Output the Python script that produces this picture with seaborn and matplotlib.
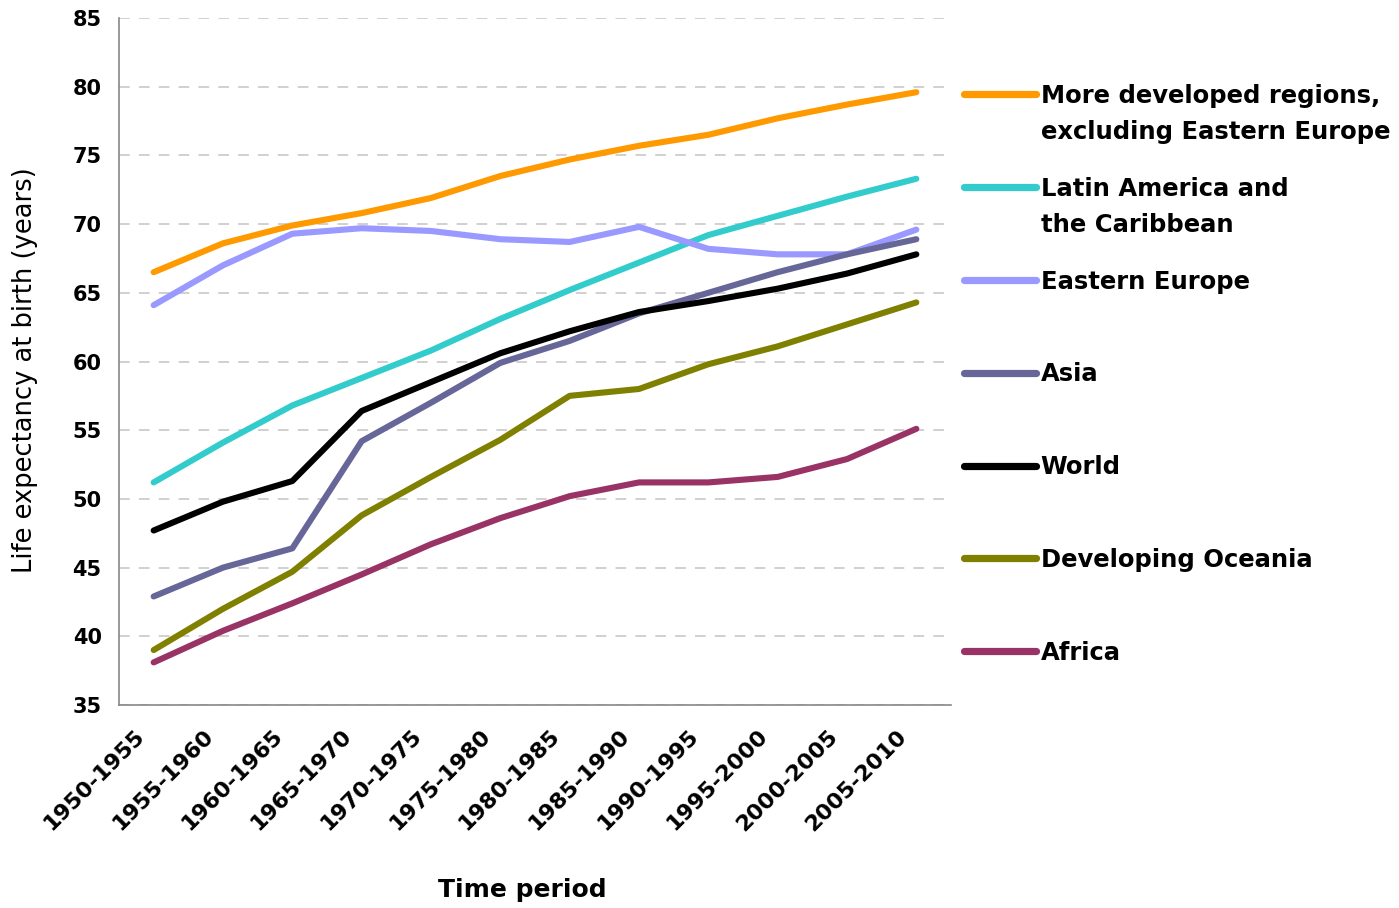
import numpy as np
import pandas as pd
import matplotlib
matplotlib.use("Agg")
import matplotlib.pyplot as plt
import matplotlib.transforms as mtransforms
import seaborn as sns

periods = ["1950-1955", "1955-1960", "1960-1965", "1965-1970", "1970-1975", "1975-1980",
           "1980-1985", "1985-1990", "1990-1995", "1995-2000", "2000-2005", "2005-2010"]

more_developed = [66.5, 68.6, 69.9, 70.8, 71.9, 73.5, 74.7, 75.7, 76.5, 77.7, 78.7, 79.6]
latin_america = [51.2, 54.1, 56.8, 58.8, 60.8, 63.1, 65.2, 67.2, 69.2, 70.6, 72.0, 73.3]
eastern_europe = [64.1, 67.0, 69.3, 69.7, 69.5, 68.9, 68.7, 69.8, 68.2, 67.8, 67.8, 69.6]
asia = [42.9, 45.0, 46.4, 54.2, 57.0, 59.9, 61.5, 63.5, 65.0, 66.5, 67.8, 68.9]
world = [47.7, 49.8, 51.3, 56.4, 58.5, 60.6, 62.2, 63.6, 64.4, 65.3, 66.4, 67.8]
developing_oceania = [39.0, 42.0, 44.7, 48.8, 51.6, 54.3, 57.5, 58.0, 59.8, 61.1, 62.7, 64.3]
africa = [38.1, 40.4, 42.4, 44.5, 46.7, 48.6, 50.2, 51.2, 51.2, 51.6, 52.9, 55.1]

series_names = ["More developed regions,", "Latin America and", "Eastern Europe", "Asia",
                "World", "Developing Oceania", "Africa"]
second_lines = ["excluding Eastern Europe", "the Caribbean", "", "", "", "", ""]
series_values = [more_developed, latin_america, eastern_europe, asia, world,
                 developing_oceania, africa]
colors = ["#FF9900", "#33CCCC", "#9999FF", "#666699", "#000000", "#808000", "#993366"]

y_ticks = [35, 40, 45, 50, 55, 60, 65, 70, 75, 80, 85]

rows = []
for name, vals in zip(series_names, series_values):
    for i, v in enumerate(vals):
        rows.append({"pos": i, "period": periods[i], "series": name, "value": v})
df = pd.DataFrame(rows)

sns.set_style("white")
plt.rcParams["font.family"] = ["DejaVu Sans"]
plt.rcParams["text.color"] = "black"
plt.rcParams["axes.labelcolor"] = "black"

fig = plt.figure(figsize=(13.99, 9.08), dpi=100)
ax = fig.add_axes([119 / 1399, 1 - 705 / 908, (951 - 119) / 1399, (705 - 18) / 908])

sns.lineplot(data=df, x="pos", y="value", hue="series", hue_order=series_names,
             palette=dict(zip(series_names, colors)), linewidth=4.4, ax=ax,
             legend=True, sort=False)
for ln in ax.get_lines():
    ln.set_solid_capstyle("round")
    ln.set_solid_joinstyle("round")

ax.set_xlim(-0.5, len(periods) - 0.5)
ax.set_ylim(35, 85)
ax.set_yticks(y_ticks)
ax.set_yticklabels([str(t) for t in y_ticks], fontsize=15, fontweight="bold")

ax.tick_params(axis="both", which="major", direction="out", length=6.5, width=1.2,
               color="#888888", labelcolor="black")
ax.tick_params(axis="y", pad=6)
ax.tick_params(axis="x", which="minor", length=0, pad=15, labelcolor="black")

ax.set_xticks(np.arange(-0.5, len(periods), 1.0))
ax.set_xticklabels([])
ax.set_xticks(np.arange(len(periods)), minor=True)
ax.set_xticklabels(periods, minor=True, rotation=45, ha="right", va="top",
                   rotation_mode="anchor", fontsize=16, fontweight="bold")
offset = mtransforms.ScaledTranslation(-0.20, 0.0, fig.dpi_scale_trans)
for tick in ax.xaxis.get_minor_ticks():
    tick.label1.set_transform(tick.label1.get_transform() + offset)

for s in ["top", "right"]:
    ax.spines[s].set_visible(False)
for s in ["left", "bottom"]:
    ax.spines[s].set_color("#888888")
    ax.spines[s].set_linewidth(1.2)

ax.yaxis.grid(True, linestyle=(0, (7, 6)), color="#c4c4c4", linewidth=1.1)
ax.xaxis.grid(False)
ax.set_axisbelow(True)

ax.set_xlabel("Time period", fontsize=18, fontweight="bold")
ax.xaxis.set_label_coords((522 - 119) / 832, -(878 - 705) / 687)
ax.xaxis.label.set_va("top")
ax.set_ylabel("Life expectancy at birth (years)", fontsize=18.5)
ax.yaxis.set_label_coords(-(119 - 25) / 832, (705 - 370) / 687)
ax.yaxis.label.set_va("center")

# legend
handles, labels = ax.get_legend_handles_labels()
ax.get_legend().remove()
leg = fig.legend(handles, series_names, loc="upper left",
                 bbox_to_anchor=(964 / 1399, 1 - 84 / 908), frameon=False,
                 prop={"weight": "bold", "size": 17.5},
                 handlelength=2.95, handletextpad=0.2, labelspacing=2.83,
                 borderpad=0, borderaxespad=0)
for h in leg.get_lines():
    h.set_linewidth(5.2)
for t in leg.get_texts():
    t.set_color("black")

fig.canvas.draw()
renderer = fig.canvas.get_renderer()
for t, extra in zip(leg.get_texts(), second_lines):
    if extra:
        bb = t.get_window_extent(renderer)
        fig.text(bb.x0 / fig.bbox.width, (bb.y0 - 36) / fig.bbox.height, extra,
                 fontsize=17.5, fontweight="bold", ha="left", va="bottom",
                 color="black")

fig.savefig("out.png", dpi=100)
